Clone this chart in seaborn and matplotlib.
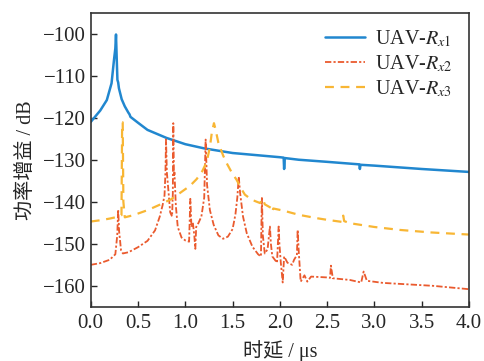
import matplotlib
matplotlib.use("Agg")
import matplotlib.pyplot as plt
import seaborn as sns
import pandas as pd

# UAV-Rx1 (blue, solid)
rx1_t = [0.0, 0.1, 0.17, 0.22, 0.246, 0.26, 0.267, 0.274, 0.282, 0.29, 0.298, 0.327,
         0.36, 0.398, 0.41, 0.42, 0.5, 0.6, 0.8, 1.0, 1.2, 1.5, 1.8, 2.0, 2.04,
         2.045, 2.052, 2.2, 2.5, 2.84, 2.846, 2.853, 3.0, 3.5, 4.0]
rx1_db = [-121.0, -118.3, -115.8, -111.8, -106.2, -103.5, -100.2, -105.5, -111.0, -111.6,
          -113.0, -115.6, -117.3, -118.8, -119.2, -119.8, -121.2, -122.9, -124.8, -126.3,
          -127.3, -128.4, -129.0, -129.4, -129.5, -132.2, -129.6, -130.0, -130.5, -131.1,
          -132.2, -131.2, -131.4, -132.2, -132.9]

# UAV-Rx2 (red-orange, dash-dot)
rx2_t = [0.0, 0.1, 0.2, 0.26, 0.28, 0.29, 0.3, 0.32, 0.34, 0.4, 0.5, 0.6, 0.68, 0.73,
         0.76, 0.78, 0.79, 0.796, 0.805, 0.82, 0.84, 0.86, 0.868, 0.873, 0.88, 0.885,
         0.9, 0.92, 0.96, 1.0, 1.04, 1.053, 1.065, 1.08, 1.095, 1.106, 1.115, 1.14, 1.17,
         1.2, 1.215, 1.23, 1.26, 1.3, 1.35, 1.4, 1.45, 1.5, 1.53, 1.55, 1.565, 1.58, 1.61,
         1.65, 1.71, 1.77, 1.8, 1.805, 1.81, 1.82, 1.84, 1.87, 1.885, 1.895, 1.905, 1.92,
         1.97, 1.987, 1.995, 2.01, 2.03, 2.045, 2.08, 2.13, 2.15, 2.18, 2.188, 2.2, 2.22,
         2.26, 2.29, 2.33, 2.5, 2.53, 2.54, 2.56, 2.74, 2.86, 2.886, 2.92, 3.09, 3.62, 4.0]
rx2_db = [-155.0, -154.6, -153.8, -152.5, -148.0, -141.9, -147.0, -151.5, -152.3, -152.0,
          -150.8, -149.3, -146.8, -143.5, -140.8, -138.5, -133.0, -125.2, -133.0, -137.0,
          -142.5, -143.5, -138.0, -121.3, -134.0, -133.0, -141.0, -146.0, -148.5, -149.2,
          -149.5, -139.3, -146.0, -145.0, -148.0, -151.2, -146.0, -145.0, -143.5, -139.0,
          -125.2, -136.0, -142.0, -145.5, -148.0, -148.8, -148.3, -146.5, -143.0, -139.0,
          -134.0, -138.0, -143.5, -147.5, -150.7, -152.5, -153.0, -145.0, -139.1, -148.0,
          -152.3, -151.3, -148.0, -145.9, -150.0, -153.0, -154.5, -145.9, -150.0, -154.5,
          -159.2, -153.0, -154.5, -155.0, -153.8, -152.7, -146.7, -152.0, -159.0, -157.5,
          -159.0, -157.8, -158.0, -158.1, -155.2, -158.2, -158.6, -159.2, -156.6, -158.8,
          -159.3, -160.0, -160.8]

# UAV-Rx3 (yellow, dashed)
rx3_t = [0.0, 0.1, 0.2, 0.3, 0.325, 0.332, 0.338, 0.345, 0.36, 0.45, 0.6, 0.73, 0.85,
         0.944, 1.05, 1.12, 1.18, 1.226, 1.26, 1.28, 1.303, 1.32, 1.35, 1.4, 1.437, 1.49,
         1.543, 1.6, 1.63, 1.7, 1.79, 1.82, 1.84, 1.91, 1.92, 1.93, 2.036, 2.2, 2.389, 2.5,
         2.66, 2.67, 2.68, 2.741, 3.0, 3.27, 3.6, 4.0]
rx3_db = [-144.7, -144.4, -144.0, -143.5, -143.2, -121.1, -121.1, -140.0, -143.7, -143.2,
          -142.0, -140.7, -139.4, -137.9, -136.2, -134.6, -132.7, -130.5, -127.0, -123.6,
          -121.3, -122.8, -126.0, -129.0, -130.8, -133.0, -134.8, -137.2, -138.3, -139.5,
          -140.3, -139.3, -140.6, -141.5, -142.4, -141.6, -142.1, -143.1, -143.9, -144.3,
          -144.8, -143.3, -144.6, -145.1, -146.0, -146.7, -147.3, -147.8]

labels = ["UAV-$R_{x1}$", "UAV-$R_{x2}$", "UAV-$R_{x3}$"]

sns.set_style("ticks")
plt.rcParams["font.family"] = ["Liberation Serif", "Noto Sans CJK SC"]
plt.rcParams["mathtext.fontset"] = "stix"
plt.rcParams["xtick.direction"] = "in"
plt.rcParams["ytick.direction"] = "in"

fig = plt.figure(figsize=(4.84, 3.61), dpi=100)
ax = fig.add_axes([0.1875, 0.150, 0.7815, 0.815])

df1 = pd.DataFrame({"t": rx1_t, "g": rx1_db})
df2 = pd.DataFrame({"t": rx2_t, "g": rx2_db})
df3 = pd.DataFrame({"t": rx3_t, "g": rx3_db})

sns.lineplot(data=df1, x="t", y="g", ax=ax, color="#2187cf", lw=1.8,
             estimator=None, sort=False, label=labels[0])
sns.lineplot(data=df2, x="t", y="g", ax=ax, color="#ea5a2e", lw=1.3,
             estimator=None, sort=False, label=labels[1])
ax.lines[-1].set_dashes([3.5, 1.2, 1.2, 1.2])
sns.lineplot(data=df3, x="t", y="g", ax=ax, color="#f8b634", lw=1.6,
             estimator=None, sort=False, label=labels[2])
ax.lines[-1].set_dashes([4, 3])

ax.set_xlim(0, 4.0)
ax.set_ylim(-165, -95)
ax.set_xticks([0.0, 0.5, 1.0, 1.5, 2.0, 2.5, 3.0, 3.5, 4.0])
ax.set_yticks([-100, -110, -120, -130, -140, -150, -160])
ax.tick_params(labelsize=15, length=4, width=1, top=False, right=False)
ax.tick_params(axis="x", pad=5)
for s in ax.spines.values():
    s.set_linewidth(1.2)
    s.set_color("#333333")

ax.set_xlabel("时延 / μs", fontsize=14.5, labelpad=5)
ax.set_ylabel("功率增益 / dB", fontsize=14.5, labelpad=5)

leg = ax.legend(loc="upper right", frameon=False, fontsize=14.5, handlelength=2.0,
                handletextpad=0.5, labelspacing=0.2, borderaxespad=0.4)

fig.savefig("out.png", dpi=100)
